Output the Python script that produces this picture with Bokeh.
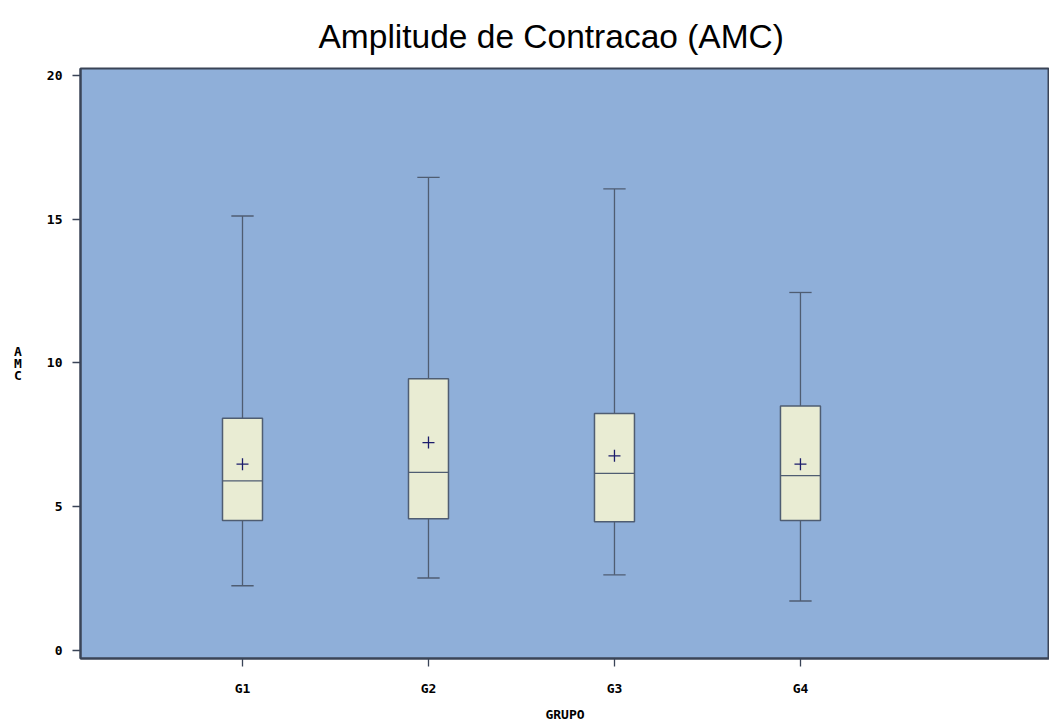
from bokeh.plotting import figure
from bokeh.models import Range1d, FixedTicker, ColumnDataSource
from bokeh.embed import file_html
from bokeh.resources import INLINE

# ---- data ----
groups = ["G1", "G2", "G3", "G4"]
whisker_low = [2.25, 2.52, 2.63, 1.72]
q1 = [4.52, 4.58, 4.48, 4.52]
median = [5.90, 6.19, 6.16, 6.08]
mean = [6.48, 7.23, 6.77, 6.48]
q3 = [8.08, 9.45, 8.24, 8.50]
whisker_high = [15.11, 16.45, 16.05, 12.45]
y_ticks = [0, 5, 10, 15, 20]

xpos = [i + 1 for i in range(len(groups))]
box_w = 0.215
cap_w = 0.12

src = ColumnDataSource(dict(
    x=xpos, lo=whisker_low, q1=q1, med=median, mean=mean, q3=q3, hi=whisker_high,
    left=[x - box_w / 2 for x in xpos], right=[x + box_w / 2 for x in xpos],
    cl=[x - cap_w / 2 for x in xpos], cr=[x + cap_w / 2 for x in xpos],
))

BG = "#8FAFD9"
BOX = "#E9ECD3"
LINE = "#4F5D72"
AX = "#3A4457"
FONT_AX = "DejaVu Sans Mono"

p = figure(width=1049, height=724, output_backend="svg", toolbar_location=None,
           x_range=Range1d(0.129, 5.339), y_range=Range1d(-0.28, 20.24),
           min_border_left=80, min_border_right=0, min_border_top=68, min_border_bottom=64,
           background_fill_color=BG, border_fill_color="white",
           title="Amplitude de Contracao (AMC)")

p.outline_line_color = AX
p.outline_line_width = 2
p.xgrid.visible = False
p.ygrid.visible = False

p.title.text_font = "Liberation Sans"
p.title.text_font_size = "33.5px"
p.title.text_font_style = "normal"
p.title.text_color = "black"
p.title.align = "left"
p.title.offset = 238
p.title.standoff = 27

# whiskers
p.segment(x0="x", y0="q3", x1="x", y1="hi", source=src, line_color=LINE, line_width=1.3)
p.segment(x0="x", y0="lo", x1="x", y1="q1", source=src, line_color=LINE, line_width=1.3)
p.segment(x0="cl", y0="hi", x1="cr", y1="hi", source=src, line_color=LINE, line_width=1.3)
p.segment(x0="cl", y0="lo", x1="cr", y1="lo", source=src, line_color=LINE, line_width=1.3)
# boxes
p.quad(left="left", right="right", bottom="q1", top="q3", source=src,
       fill_color=BOX, line_color=LINE, line_width=1.5)
# medians
p.segment(x0="left", y0="med", x1="right", y1="med", source=src, line_color=LINE, line_width=1.3)
# means
p.scatter(x="x", y="mean", source=src, marker="cross", size=12, line_color="#1B1B6B", line_width=1.3)

# axes
xa = p.xaxis[0]
xa.ticker = FixedTicker(ticks=xpos)
xa.major_label_overrides = {x: g for x, g in zip(xpos, groups)}
xa.axis_label = "GRUPO"
ya = p.yaxis[0]
ya.ticker = FixedTicker(ticks=y_ticks)
ya.axis_label = "A\nM\nC"
ya.axis_label_orientation = "horizontal"
ya.axis_label_text_line_height = 0.8

for ax in (xa, ya):
    ax.axis_line_color = AX
    ax.axis_line_width = 2
    ax.major_tick_line_color = AX
    ax.major_tick_line_width = 1.3
    ax.major_tick_out = 8
    ax.major_tick_in = 0
    ax.minor_tick_line_color = None
    ax.major_label_text_font = FONT_AX
    ax.major_label_text_font_style = "bold"
    ax.major_label_text_font_size = "13px"
    ax.major_label_text_color = "black"
    ax.axis_label_text_font = FONT_AX
    ax.axis_label_text_font_style = "bold"
    ax.axis_label_text_font_size = "13px"
    ax.axis_label_text_color = "black"

xa.major_label_standoff = 14
xa.axis_label_standoff = 8
ya.major_label_standoff = 10
ya.axis_label_standoff = 22

open("out.html", "w").write(file_html(p, INLINE))
